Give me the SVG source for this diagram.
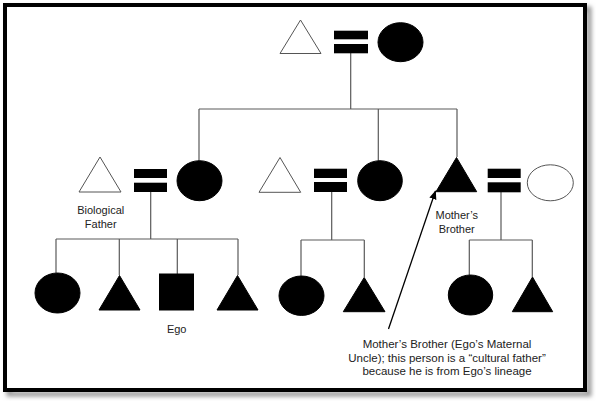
<svg xmlns="http://www.w3.org/2000/svg" width="596" height="401" viewBox="0 0 596 401">
<defs>
<style>
.ln{stroke:#5a5a5a;stroke-width:1.2;fill:none}
.fill{fill:#000;stroke:#000;stroke-width:1}
.open{fill:#fff;stroke:#555;stroke-width:1}
.bar{fill:#000}
.lbl{font-family:"Liberation Sans",Arial,sans-serif;font-size:11px;fill:#222;text-anchor:middle}
.note{font-size:11.5px}
</style>
<filter id="sh" x="-5%" y="-5%" width="110%" height="110%">
<feGaussianBlur stdDeviation="2"/>
</filter>
<marker id="ah" viewBox="0 0 10 10" refX="9" refY="5" markerWidth="7" markerHeight="7" orient="auto">
<path d="M0,1 L10,5 L0,9 Z" fill="#000"/>
</marker>
</defs>
<rect width="596" height="401" fill="#fff"/>
<rect x="9" y="9" width="580" height="385" fill="none" stroke="#999" stroke-width="5" filter="url(#sh)"/>
<rect x="5" y="5" width="580" height="385" fill="#fff" stroke="#000" stroke-width="4"/>

<g id="connectors">
<path class="ln" d="M350.7,53 V109 M199,109 H457 M199,109 V161 M378.3,109 V161 M457,109 V157"/>
<path class="ln" d="M150.7,192 V239 M56,239 H238 M56,239 V273 M119.3,239 V275 M177.3,239 V274 M238,239 V275"/>
<path class="ln" d="M331.7,192 V240 M301,240 H364.3 M301,240 V276 M364.3,240 V277"/>
<path class="ln" d="M501,192 V240 M469.3,240 H532.3 M469.3,240 V275 M532.3,240 V277"/>
<line x1="388.5" y1="329" x2="435.5" y2="191" stroke="#000" stroke-width="1.3" marker-end="url(#ah)"/>
</g>

<g id="gp-father"><polygon class="open" points="300.5,20 280,53.5 321,53.5"/></g>
<g id="gp-marriage"><rect class="bar" x="334" y="30.7" width="34" height="8.6"/><rect class="bar" x="334" y="44" width="34" height="9.3"/></g>
<g id="gp-mother"><ellipse class="fill" cx="400.5" cy="42.2" rx="22.5" ry="19.5"/></g>

<g id="bio-father"><polygon class="open" points="100,157 79,192 121,192"/>
<text class="lbl" x="100.7" y="214">Biological</text><text class="lbl" x="100.7" y="228">Father</text></g>
<g id="marriage-1"><rect class="bar" x="134" y="169" width="33" height="9"/><rect class="bar" x="134" y="182.7" width="33" height="9.3"/></g>
<g id="ego-mother"><ellipse class="fill" cx="199.5" cy="180.7" rx="22.5" ry="20"/></g>

<g id="aunt-husband"><polygon class="open" points="280,157.5 259,192.3 300.7,192.3"/></g>
<g id="marriage-2"><rect class="bar" x="314" y="168.7" width="33" height="9.3"/><rect class="bar" x="314" y="182" width="33" height="10"/></g>
<g id="aunt"><ellipse class="fill" cx="380" cy="180.7" rx="22.3" ry="20"/></g>

<g id="mothers-brother"><polygon class="fill" points="456.5,157.5 436,191.7 476.7,191.7"/>
<text class="lbl" x="456.7" y="219">Mother’s</text><text class="lbl" x="456.7" y="233">Brother</text></g>
<g id="marriage-3"><rect class="bar" x="487.7" y="168.7" width="33" height="9.3"/><rect class="bar" x="487.7" y="182.3" width="33" height="10"/></g>
<g id="uncle-wife"><ellipse class="open" cx="550.3" cy="182.8" rx="23" ry="18"/></g>

<g id="sib-1"><ellipse class="fill" cx="57.5" cy="293" rx="22.5" ry="20"/></g>
<g id="sib-2"><polygon class="fill" points="119.5,275.5 99,310 140,310"/></g>
<g id="ego"><rect class="fill" x="159.5" y="274" width="34" height="36"/>
<text class="lbl" x="176.7" y="333">Ego</text></g>
<g id="sib-3"><polygon class="fill" points="237.5,275.5 217,310 258,310"/></g>

<g id="cousin-1"><ellipse class="fill" cx="301.5" cy="295.7" rx="22.5" ry="19.7"/></g>
<g id="cousin-2"><polygon class="fill" points="364.2,277.5 343.3,311.7 385,311.7"/></g>

<g id="cousin-3"><ellipse class="fill" cx="470.5" cy="295" rx="22.2" ry="20"/></g>
<g id="cousin-4"><polygon class="fill" points="532.5,277 512.3,311.7 552.7,311.7"/></g>

<g id="note" class="lbl note">
<text class="lbl note" x="447" y="347.5">Mother’s Brother (Ego’s Maternal</text>
<text class="lbl note" x="447" y="361.5">Uncle); this person is a “cultural father”</text>
<text class="lbl note" x="447" y="375">because he is from Ego’s lineage</text>
</g>
</svg>
